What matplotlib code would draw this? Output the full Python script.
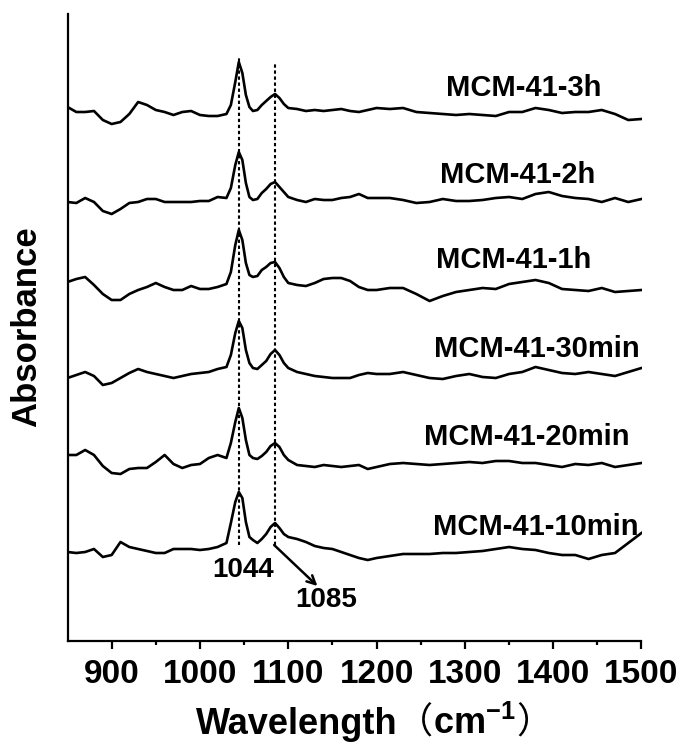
import matplotlib
matplotlib.use("Agg")
import matplotlib.pyplot as plt
from matplotlib.offsetbox import TextArea, HPacker, AnchoredOffsetbox

plt.rcParams['font.family'] = ['Liberation Sans', 'DejaVu Sans']
plt.rcParams['font.weight'] = 'bold'
plt.rcParams['mathtext.fontset'] = 'custom'
plt.rcParams['mathtext.rm'] = 'Liberation Sans:bold'
plt.rcParams['mathtext.bf'] = 'Liberation Sans:bold'
plt.rcParams['mathtext.it'] = 'Liberation Sans:bold'

# ---------------- data ----------------
wavenumber = [850, 860, 870, 880, 890, 900, 910, 920, 930, 940, 950, 960, 970, 980, 990, 1000, 1010, 1020, 1030,
              1035, 1040, 1044, 1048, 1052, 1056, 1060, 1065, 1070, 1075, 1080, 1085, 1090, 1095, 1100,
              1110, 1120, 1130, 1140, 1150, 1160, 1170, 1180, 1190, 1200,
              1215, 1230, 1245, 1260, 1275, 1290, 1305, 1320, 1335, 1350, 1365, 1380, 1395, 1410, 1425, 1440,
              1455, 1470, 1485, 1500]

mcm_3h = [534, 529, 529, 530, 521, 517, 519, 527, 539, 536, 531, 529, 526, 529, 530, 526, 525, 525, 527,
          536, 559, 579, 568, 546, 534, 530, 531, 536, 540, 544, 547, 543, 537, 533,
          532, 530, 531, 530, 531, 532, 530, 529, 531, 533,
          532, 533, 529, 528, 527, 526, 527, 526, 525, 529, 529, 533, 531, 528, 529, 529, 531, 527, 521, 522]

mcm_2h = [439, 438, 443, 439, 430, 427, 432, 438, 439, 442, 442, 439, 439, 439, 439, 440, 440, 444, 443,
          453, 476, 489, 481, 458, 444, 441, 442, 448, 452, 457, 459, 454, 449, 444,
          441, 439, 442, 441, 441, 443, 444, 447, 443, 443,
          443, 441, 438, 439, 442, 440, 440, 441, 443, 444, 442, 447, 449, 445, 443, 442, 439, 443, 439, 442]

mcm_1h = [359, 362, 364, 356, 347, 341, 341, 347, 351, 354, 358, 354, 351, 351, 355, 352, 352, 354, 357,
          369, 396, 411, 401, 378, 366, 364, 365, 371, 374, 378, 379, 373, 364, 358,
          356, 355, 358, 362, 363, 363, 360, 354, 351, 351,
          353, 353, 347, 340, 345, 349, 351, 353, 352, 357, 359, 361, 358, 352, 351, 350, 353, 349, 350, 351]

mcm_30min = [263, 266, 269, 265, 256, 258, 263, 268, 272, 269, 267, 265, 263, 265, 267, 268, 269, 272, 274,
             286, 308, 320, 313, 291, 278, 273, 272, 276, 280, 287, 291, 286, 278, 273,
             269, 267, 265, 264, 263, 263, 263, 266, 268, 267,
             267, 269, 266, 263, 262, 265, 267, 264, 263, 267, 269, 274, 271, 268, 267, 269, 267, 265, 269, 273]

mcm_20min = [186, 186, 191, 186, 175, 168, 167, 172, 173, 173, 179, 186, 177, 173, 176, 177, 183, 186, 183,
             198, 219, 233, 223, 201, 186, 183, 182, 185, 189, 195, 198, 194, 186, 181,
             176, 175, 174, 176, 175, 174, 175, 176, 172, 174,
             177, 178, 177, 176, 177, 178, 179, 178, 180, 180, 178, 178, 176, 174, 177, 176, 178, 174, 176, 178]

mcm_10min = [89, 88, 89, 92, 84, 86, 99, 94, 92, 90, 88, 88, 92, 92, 92, 91, 92, 94, 98,
             118, 139, 149, 143, 119, 104, 101, 98, 102, 107, 114, 118, 113, 107, 104,
             102, 99, 95, 93, 92, 89, 86, 83, 81, 83,
             85, 87, 87, 87, 88, 88, 89, 90, 92, 94, 92, 91, 88, 86, 86, 82, 86, 88, 98, 108]

series = [mcm_3h, mcm_2h, mcm_1h, mcm_30min, mcm_20min, mcm_10min]
series_labels = ['MCM-41-3h', 'MCM-41-2h', 'MCM-41-1h', 'MCM-41-30min', 'MCM-41-20min', 'MCM-41-10min']
label_x = [1367, 1360, 1355, 1381, 1370, 1380]
label_y = [545, 458, 373, 284, 196, 106]

peak_positions = [1044, 1085]
peak_line_top = [583, 579]
peak_line_bottom = [96, 96]
x_ticks = [900, 1000, 1100, 1200, 1300, 1400, 1500]

# ---------------- figure ----------------
fig = plt.figure(figsize=(6.84, 7.42), dpi=100)
ax = fig.add_axes([67.5 / 684, (742 - 641) / 742, (641.5 - 67.5) / 684, (641 - 14) / 742])

for vals in series:
    ax.plot(wavenumber, vals, color='black', lw=1.9, solid_joinstyle='round')

ax.vlines(peak_positions, peak_line_bottom, peak_line_top, colors='black',
          linestyles=(0, (1.6, 1.3)), lw=1.5)

for lab, lx, ly in zip(series_labels, label_x, label_y):
    ax.text(lx, ly, lab, ha='center', va='baseline', fontsize=21, fontweight='bold')

ax.text(1049, 64, '1044', ha='center', va='baseline', fontsize=20, fontweight='bold')
ax.text(1143.5, 34, '1085', ha='center', va='baseline', fontsize=20, fontweight='bold')
ax.annotate('', xy=(1133, 55), xytext=(1084, 96),
            arrowprops=dict(arrowstyle='->,head_length=0.6,head_width=0.3', lw=1.8, color='black',
                            shrinkA=0, shrinkB=0))

ax.set_xlim(850, 1500)
ax.set_ylim(0, 627)
ax.set_yticks([])
ax.set_xticks(x_ticks)
ax.set_xticks([950, 1050, 1150, 1250, 1350, 1450], minor=True)
ax.tick_params(axis='x', which='major', direction='out', length=6, width=1.6, pad=7, labelsize=24)
ax.tick_params(axis='x', which='minor', direction='out', length=3, width=1.6)
for lab in ax.get_xticklabels():
    lab.set_fontweight('bold')
for s in ['top', 'right']:
    ax.spines[s].set_visible(False)
for s in ['left', 'bottom']:
    ax.spines[s].set_linewidth(1.6)

fig.text(27 / 684, 1 - 327 / 742, 'Absorbance', rotation=90, ha='center', va='center',
         fontsize=25, fontweight='bold')

tp = dict(fontsize=26, fontweight='bold', family='Liberation Sans')
cp = dict(fontsize=26, fontweight='normal', family='Noto Sans CJK SC')
parts = [TextArea('Wavelength', textprops=tp), TextArea('（', textprops=cp),
         TextArea(r'cm$^{\mathbf{-1}}$', textprops=tp), TextArea('）', textprops=cp)]
box = HPacker(children=parts, align='baseline', pad=0, sep=0)
anch = AnchoredOffsetbox(loc='lower center', child=box, pad=0, borderpad=0, frameon=False,
                         bbox_to_anchor=(374 / 684, 0.0), bbox_transform=fig.transFigure)
fig.add_artist(anch)

fig.savefig('out.png', dpi=100)
